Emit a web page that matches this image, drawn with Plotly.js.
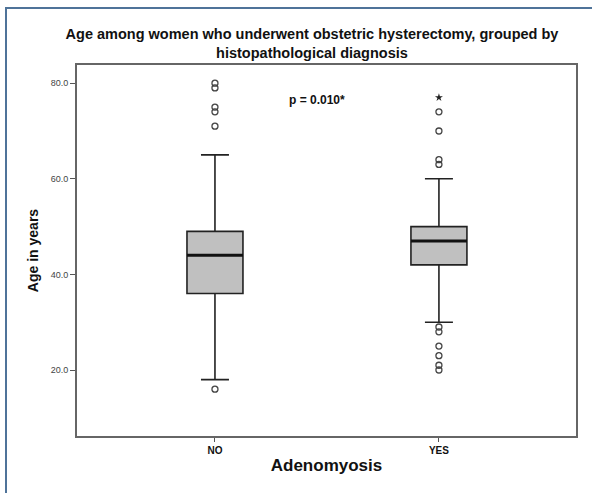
<!DOCTYPE html>
<html>
<head>
<meta charset="utf-8">
<script src="https://cdn.plot.ly/plotly-3.0.1.min.js"></script>
<style>
html,body{margin:0;padding:0;background:#fff;}
#wrap{position:relative;width:592px;height:493px;overflow:hidden;}
#frame{position:absolute;left:5px;top:7px;width:600px;height:600px;border-left:2px solid #4f7399;border-top:2px solid #4f7399;pointer-events:none;}
#chart{position:absolute;left:0;top:0;width:592px;height:493px;}
</style>
</head>
<body>
<div id="wrap">
<div id="chart"></div>
<div id="frame"></div>
</div>
<script>
// Categories
var categories = ["NO", "YES"];
// Box statistics (age in years)
var q1Values = [36, 42];
var medianValues = [44, 47];
var q3Values = [49, 50];
var lowerWhisker = [18, 30];
var upperWhisker = [65, 60];
// Outliers
var outliersNO = [80, 79, 75, 74, 71, 16];
var outliersYES = [74, 70, 64, 63, 29, 28, 25, 23, 21, 20];
// Extreme values (asterisk)
var extremesYES = [77];
// Tick labels
var yTickVals = [20, 40, 60, 80];
var yTickText = ["20.0", "40.0", "60.0", "80.0"];
var pText = "p = 0.010*";

var boxTrace = {
  type: "box",
  x: categories,
  q1: q1Values,
  median: medianValues,
  q3: q3Values,
  lowerfence: lowerWhisker,
  upperfence: upperWhisker,
  width: 0.25,
  whiskerwidth: 0.5,
  fillcolor: "#c0c0c0",
  line: {color: "#222", width: 1.6},
  boxpoints: false,
  hoverinfo: "skip",
  showlegend: false
};
var medianTrace = {
  type: "box",
  x: categories,
  q1: medianValues,
  median: medianValues,
  q3: medianValues,
  lowerfence: medianValues,
  upperfence: medianValues,
  width: 0.25,
  whiskerwidth: 0,
  fillcolor: "rgba(0,0,0,0)",
  line: {color: "#111", width: 3},
  boxpoints: false,
  hoverinfo: "skip",
  showlegend: false
};
var outNO = {
  type: "scatter", mode: "markers",
  x: outliersNO.map(function(){return categories[0];}),
  y: outliersNO,
  marker: {symbol: "circle-open", size: 6, color: "#444", line: {width: 1.3}},
  showlegend: false, hoverinfo: "y"
};
var outYES = {
  type: "scatter", mode: "markers",
  x: outliersYES.map(function(){return categories[1];}),
  y: outliersYES,
  marker: {symbol: "circle-open", size: 6, color: "#444", line: {width: 1.3}},
  showlegend: false, hoverinfo: "y"
};
var extYES = {
  type: "scatter", mode: "markers",
  x: extremesYES.map(function(){return categories[1];}),
  y: extremesYES,
  marker: {symbol: "star", size: 6, color: "#222"},
  showlegend: false, hoverinfo: "y"
};

var layout = {
  width: 592, height: 493,
  margin: {l: 77, r: 16, t: 65, b: 57},
  paper_bgcolor: "rgba(0,0,0,0)",
  plot_bgcolor: "#fff",
  font: {family: "Liberation Sans, Arial, sans-serif", color: "#111"},
  title: {
    text: "<b>Age among women who underwent obstetric hysterectomy, grouped by<br>histopathological diagnosis</b>",
    font: {size: 14.5, color: "#111"},
    x: 0.527, xanchor: "center",
    y: 0.921, yanchor: "top"
  },
  xaxis: {
    type: "category",
    range: [-0.616, 1.612],
    showgrid: false, zeroline: false,
    showline: true, mirror: true, linecolor: "#666", linewidth: 2,
    ticks: "outside", ticklen: 4, tickcolor: "#555", tickwidth: 1,
    tickfont: {size: 10, color: "#111"},
    tickvals: categories,
    ticktext: categories.map(function(c){return "<b>" + c + "</b>";}),
    title: {text: "<b>Adenomyosis</b>", font: {size: 17, color: "#111"}, standoff: 4}
  },
  yaxis: {
    range: [6.2, 83.8],
    showgrid: false, zeroline: false,
    showline: true, mirror: true, linecolor: "#666", linewidth: 2,
    ticks: "outside", ticklen: 5, tickcolor: "#555", tickwidth: 1,
    tickvals: yTickVals, ticktext: yTickText,
    tickfont: {size: 9, color: "#444"},
    title: {text: "<b>Age in years</b>", font: {size: 14, color: "#111"}, standoff: 9}
  },
  annotations: [{
    text: "<b>" + pText + "</b>",
    xref: "paper", yref: "paper",
    x: 0.48, y: 0.905, xanchor: "center", yanchor: "middle",
    showarrow: false, font: {size: 12, color: "#111"}
  }]
};

Plotly.newPlot("chart", [boxTrace, medianTrace, outNO, outYES, extYES], layout, {displayModeBar: false, staticPlot: true});
</script>
</body>
</html>
